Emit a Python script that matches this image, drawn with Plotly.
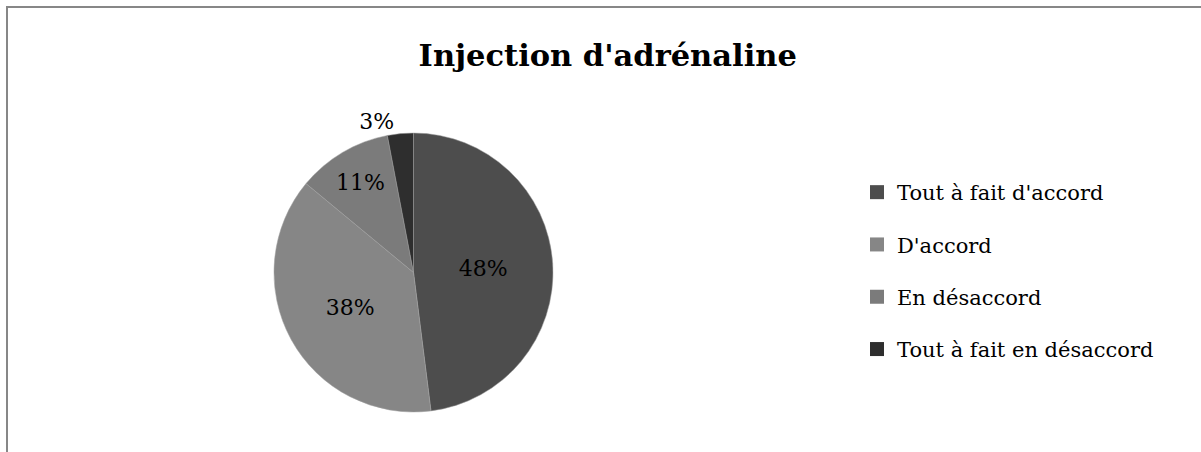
import plotly.graph_objects as go

labels = ["Tout à fait d'accord", "D'accord", "En désaccord", "Tout à fait en désaccord"]
values = [48, 38, 11, 3]
colors = ["#4d4d4d", "#868686", "#7b7b7b", "#2e2e2e"]

FONT = "DejaVu Serif"

fig = go.Figure()

fig.add_trace(go.Pie(
    labels=labels,
    values=values,
    sort=False,
    direction="clockwise",
    rotation=0,
    marker=dict(colors=colors, line=dict(color="#a0a0a0", width=0.5)),
    texttemplate="%{percent:.0%}",
    textposition=["inside", "inside", "inside", "outside"],
    insidetextorientation="horizontal",
    textfont=dict(family=FONT, size=22, color="#000000"),
    domain=dict(x=[274 / 1201, 553 / 1201], y=[1 - 412 / 452, 1 - 133 / 452]),
    showlegend=False,
    hoverinfo="label+percent",
))

# legend entries, one group each so the gap between them can be set
for name, col in zip(labels, colors):
    fig.add_trace(go.Scatter(
        x=[None], y=[None], mode="markers", name=name,
        legendgroup=name,
        marker=dict(symbol="square", size=14, color=col),
    ))

fig.update_layout(
    width=1201,
    height=452,
    margin=dict(l=0, r=0, t=0, b=0),
    paper_bgcolor="white",
    plot_bgcolor="white",
    title=dict(
        text="<b>Injection d'adrénaline</b>",
        font=dict(family=FONT, size=30.5, color="#000000"),
        x=0.506, xanchor="center", y=1 - 55 / 452, yanchor="middle",
    ),
    xaxis=dict(visible=False),
    yaxis=dict(visible=False),
    legend=dict(
        x=857 / 1201, y=1 - 271 / 452, xanchor="left", yanchor="middle",
        font=dict(family=FONT, size=21, color="#000000"),
        tracegroupgap=22,
        itemwidth=30,
    ),
    shapes=[dict(
        type="rect", xref="paper", yref="paper",
        x0=7 / 1201, x1=1.05, y0=-0.05, y1=1 - 7 / 452,
        line=dict(color="#878787", width=2),
    )],
)

fig.write_html("out.html", config={"displayModeBar": False},
               post_script="document.body.style.margin='0';")
